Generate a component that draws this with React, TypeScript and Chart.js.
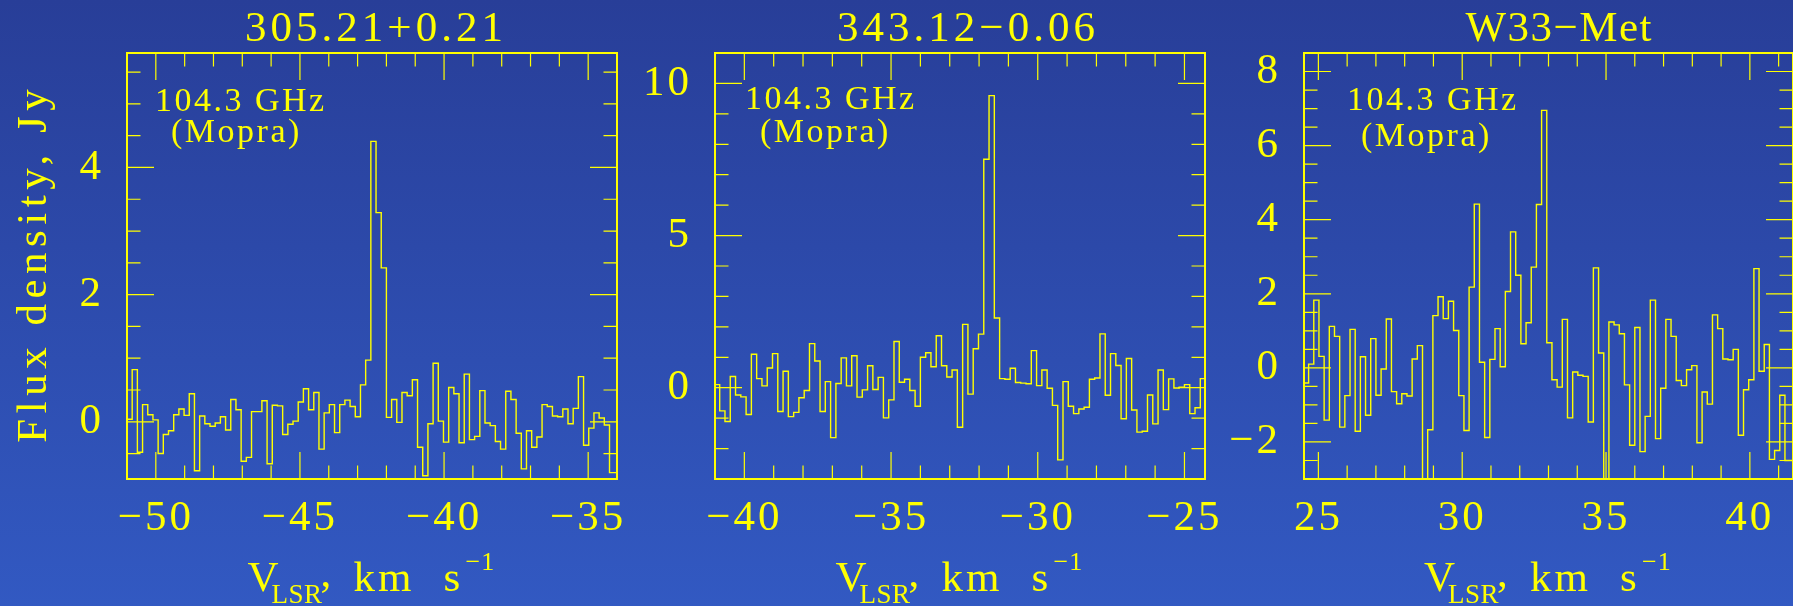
import React, { useEffect, useRef } from "react";
import { Chart, registerables } from "chart.js";

Chart.register(...registerables);

const WIDTH = 1793;
const HEIGHT = 606;
const YELLOW = "#ffff00";
const FONT = '"Liberation Serif", "Times New Roman", serif';

// channel width of the spectra, km/s
const CHANNEL_WIDTH = 0.18;

// ---- 305.21+0.21 : flux density (Jy) per channel, starting at p1Start km/s
const p1Start = -51.0;
const p1Flux = [
  0.18, 0.04, 0.82, -0.48, 0.27, 0.11, 0.03, -0.5, -0.2, -0.14,
  0.11, 0.2, 0.1, 0.44, -0.77, 0.09, -0.03, -0.07, -0.02, 0.08,
  -0.13, 0.35, 0.19, -0.62, -0.56, 0.16, 0.16, 0.33, -0.66, 0.26,
  0.25, -0.2, -0.04, 0.01, 0.31, 0.52, 0.19, 0.46, -0.43, 0.14,
  0.27, -0.17, 0.27, 0.34, 0.24, 0.08, 0.58, 0.97, 4.41, 3.29,
  2.42, 0.07, 0.35, -0.01, 0.46, 0.41, 0.66, -0.4, -0.85, -0.03,
  0.92, 0.01, -0.32, 0.54, 0.44, -0.33, 0.75, -0.28, -0.23, 0.49,
  -0.02, -0.06, -0.31, -0.43, 0.48, 0.35, -0.18, -0.74, -0.14, -0.4,
  -0.24, 0.27, 0.24, 0.09, 0.08, 0.2, -0.03, 0.21, 0.71, -0.37,
  -0.1, 0.14, 0.06, -0.05, -0.8,
];

// ---- 343.12-0.06
const p2Start = -41.02;
const p2Flux = [
  -0.33, 0.1, -0.76, -1.11, 0.37, -0.24, -0.3, -0.88, 1.1, 0.3,
  0.06, 0.65, 1.12, -0.78, 0.54, -0.95, -0.81, -0.33, -0.09, 1.45,
  0.88, -0.78, 0.2, -1.64, 0.14, 0.98, 0.06, 1.05, -0.31, -0.07,
  0.72, -0.06, 0.34, -0.99, -0.4, 1.52, 0.18, 0.28, -0.09, -0.61,
  1.0, 1.15, 0.69, 1.71, 0.72, 0.35, 0.58, -1.3, 2.08, -0.21,
  1.28, 1.76, 7.51, 9.6, 2.29, 0.3, 0.28, 0.64, 0.17, 0.15,
  0.13, 1.22, 0.07, 0.58, -0.02, -0.58, -2.37, 0.2, -0.61, -0.85,
  -0.7, -0.64, 0.28, 0.32, 1.77, -0.25, 1.12, 0.73, -1.02, 0.96,
  -0.73, -1.46, -1.43, -0.24, -1.19, 0.58, -0.72, 0.29, -0.01, 0.02,
  0.1, -0.85, -0.66, 0.3,
];

// ---- W33-Met
const p3Start = 24.48;
const p3Flux = [
  0.77, -0.41, 0.1, 1.83, 0.31, -1.41, 1.12, 0.85, -1.6, -0.75,
  1.04, -1.71, 0.3, -1.28, 0.79, -0.74, -0.03, 1.32, -0.64, -0.97,
  -0.7, -0.76, 0.24, 0.6, -3.6, -1.67, 1.41, 1.92, 1.33, 1.8,
  1.01, -0.75, -1.69, 2.18, 4.42, 0.15, -1.88, 0.23, 1.06, 0.03,
  2.06, 3.67, 2.5, 0.65, 1.22, 2.72, 4.41, 6.95, 0.68, -0.32,
  -0.52, 1.31, -1.35, -0.11, -0.2, -0.23, -1.46, 2.7, 0.4, -3.6,
  1.24, 1.16, 0.92, -0.46, -2.09, 1.09, -2.26, -1.31, 1.83, -1.91,
  -0.55, 1.31, 0.85, -0.34, -0.48, -0.05, 0.06, -2.02, -0.65, -0.98,
  1.43, 1.06, 0.24, 0.22, 0.5, -1.82, -0.59, -0.32, 2.68, -0.09,
  0.63, -2.47, -2.23, -0.74, -2.5,
];

const titles = ["305.21+0.21", "343.12\u22120.06", "W33\u2212Met"];
const noteLines = ["104.3 GHz", "(Mopra)"];
const yAxisTitle = "Flux density, Jy";

type Box = { left: number; top: number; right: number; bottom: number };
type PanelSpec = {
  title: string;
  titleSpacing: number;
  titleDx: number;
  start: number;
  flux: number[];
  xMin: number;
  xMax: number;
  yMin: number;
  yMax: number;
  xMajor: number;
  xMinor: number;
  yMajor: number;
  yMinor: number;
  box: Box;
  note: [number, number][];
  showYTitle: boolean;
};

const panels: PanelSpec[] = [
  {
    title: titles[0], titleSpacing: 4, titleDx: 2,
    start: p1Start, flux: p1Flux,
    xMin: -51, xMax: -34, yMin: -0.9, yMax: 5.8,
    xMajor: 5, xMinor: 1, yMajor: 2, yMinor: 0.5,
    box: { left: 127, top: 53, right: 617, bottom: 479 },
    note: [[28, 58], [44, 89]],
    showYTitle: true,
  },
  {
    title: titles[1], titleSpacing: 4, titleDx: 6,
    start: p2Start, flux: p2Flux,
    xMin: -41, xMax: -24.3, yMin: -3, yMax: 11,
    xMajor: 5, xMinor: 1, yMajor: 5, yMinor: 1,
    box: { left: 715, top: 53, right: 1205, bottom: 479 },
    note: [[30, 55.5], [45, 89]],
    showYTitle: false,
  },
  {
    title: titles[2], titleSpacing: 1.5, titleDx: 10,
    start: p3Start, flux: p3Flux,
    xMin: 24.5, xMax: 41.5, yMin: -3, yMax: 8.5,
    xMajor: 5, xMinor: 1, yMajor: 2, yMinor: 0.5,
    box: { left: 1304, top: 53, right: 1793, bottom: 479 },
    note: [[43, 57], [57, 93]],
    showYTitle: false,
  },
];

const MAJOR_LEN = 27;
const MINOR_LEN = 13.5;

function forEachTick(min: number, max: number, step: number, major: number, fn: (v: number, isMajor: boolean) => void) {
  const i0 = Math.ceil(min / step - 1e-6);
  const i1 = Math.floor(max / step + 1e-6);
  for (let i = i0; i <= i1; i++) {
    const v = i * step;
    const r = v / major;
    fn(v, Math.abs(r - Math.round(r)) < 1e-6);
  }
}

function drawText(ctx: any, str: string, x: number, y: number, size: number, spacing: number, align: CanvasTextAlign = "left") {
  ctx.font = `${size}px ${FONT}`;
  ctx.letterSpacing = `${spacing}px`;
  ctx.textAlign = align;
  ctx.textBaseline = "alphabetic";
  ctx.fillText(str, align === "center" ? x + spacing / 2 : x, y);
}

function makeDecor(spec: PanelSpec) {
  return {
    id: "pgplotDecor",
    beforeDraw(chart: any) {
      chart.ctx.letterSpacing = "3px";
    },
    afterDraw(chart: any) {
      const ctx = chart.ctx;
      const a = chart.chartArea;
      const xs = chart.scales.x;
      const ys = chart.scales.y;
      ctx.save();
      ctx.letterSpacing = "0px";
      ctx.strokeStyle = YELLOW;
      ctx.lineWidth = 1.2;
      ctx.beginPath();
      forEachTick(xs.min, xs.max, spec.xMinor, spec.xMajor, (v, major) => {
        const px = xs.getPixelForValue(v);
        const len = major ? MAJOR_LEN : MINOR_LEN;
        ctx.moveTo(px, a.bottom);
        ctx.lineTo(px, a.bottom - len);
        ctx.moveTo(px, a.top);
        ctx.lineTo(px, a.top + len);
      });
      forEachTick(ys.min, ys.max, spec.yMinor, spec.yMajor, (v, major) => {
        const py = ys.getPixelForValue(v);
        const len = major ? MAJOR_LEN : MINOR_LEN;
        ctx.moveTo(a.left, py);
        ctx.lineTo(a.left + len, py);
        ctx.moveTo(a.right, py);
        ctx.lineTo(a.right - len, py);
      });
      ctx.stroke();
      ctx.lineWidth = 2;
      ctx.strokeRect(a.left, a.top, a.right - a.left, a.bottom - a.top);

      ctx.fillStyle = YELLOW;
      const cx = (a.left + a.right) / 2;
      // panel title
      drawText(ctx, spec.title, cx + spec.titleDx, 41, 43, spec.titleSpacing, "center");
      // annotation
      drawText(ctx, noteLines[0], a.left + spec.note[0][0], a.top + spec.note[0][1], 34, 2.5);
      drawText(ctx, noteLines[1], a.left + spec.note[1][0], a.top + spec.note[1][1], 34, 2.5);
      // x axis title: V_LSR, km s^-1
      const gl = cx - 124.5;
      drawText(ctx, "V", gl, 591, 43, 3);
      drawText(ctx, "LSR", gl + 24, 603, 27, 0.5);
      drawText(ctx, ",", gl + 73, 586, 43, 0);
      drawText(ctx, "km", gl + 106, 591, 43, 3);
      drawText(ctx, "s", gl + 196, 591, 43, 3);
      drawText(ctx, "\u22121", gl + 218, 570, 26, 1);
      // y axis title
      if (spec.showYTitle) {
        ctx.save();
        ctx.translate(46, 266);
        ctx.rotate(-Math.PI / 2);
        drawText(ctx, yAxisTitle, 0, 0, 43, 5.5, "center");
        ctx.restore();
      }
      ctx.restore();
      ctx.letterSpacing = "0px";
    },
  };
}

const fmtTick = (v: number | string) => String(v).replace("-", "\u2212");

function fixSize(horizontal: boolean, size: number) {
  return (s: any) => {
    if (horizontal) s.height = size;
    else s.width = size;
    s.paddingLeft = 0;
    s.paddingRight = 0;
    s.paddingTop = 0;
    s.paddingBottom = 0;
  };
}

function Panel({ spec }: { spec: PanelSpec }) {
  const ref = useRef<HTMLCanvasElement | null>(null);
  useEffect(() => {
    if (!ref.current) return;
    const pts = spec.flux.map((f, i) => ({ x: spec.start + i * CHANNEL_WIDTH, y: f }));
    // right edge of the last channel
    pts.push({ x: spec.start + spec.flux.length * CHANNEL_WIDTH, y: spec.flux[spec.flux.length - 1] });
    const b = spec.box;
    const tickFont = { family: FONT, size: 43, lineHeight: 1.2 };
    const chart = new Chart(ref.current, {
      type: "line",
      data: {
        datasets: [
          {
            data: pts,
            stepped: "after",
            borderColor: YELLOW,
            borderWidth: 1.4,
            pointRadius: 0,
            fill: false,
            tension: 0,
          },
        ],
      },
      options: {
        animation: false,
        responsive: false,
        maintainAspectRatio: false,
        devicePixelRatio: 1,
        events: [],
        layout: {
          padding: { left: 0, top: b.top, right: WIDTH - b.right, bottom: 0 },
        },
        plugins: {
          legend: { display: false },
          tooltip: { enabled: false },
          title: { display: false },
        },
        scales: {
          x: {
            type: "linear",
            position: "bottom",
            min: spec.xMin,
            max: spec.xMax,
            afterFit: fixSize(true, HEIGHT - b.bottom),
            grid: { display: false, drawTicks: false },
            border: { display: false },
            ticks: {
              stepSize: spec.xMajor,
              includeBounds: false,
              autoSkip: false,
              maxRotation: 0,
              minRotation: 0,
              color: YELLOW,
              font: tickFont,
              padding: 14,
              callback: fmtTick,
            },
          },
          y: {
            type: "linear",
            position: "left",
            min: spec.yMin,
            max: spec.yMax,
            afterFit: fixSize(false, b.left),
            grid: { display: false, drawTicks: false },
            border: { display: false },
            ticks: {
              stepSize: spec.yMajor,
              includeBounds: false,
              autoSkip: false,
              color: YELLOW,
              font: tickFont,
              padding: 23,
              callback: fmtTick,
            },
          },
        },
      } as any,
      plugins: [makeDecor(spec)],
    });
    return () => chart.destroy();
  }, [spec]);
  return (
    <canvas
      ref={ref}
      width={WIDTH}
      height={HEIGHT}
      style={{ position: "absolute", left: 0, top: 0, width: WIDTH, height: HEIGHT }}
    />
  );
}

export default function App() {
  return (
    <div
      style={{
        position: "fixed",
        left: 0,
        top: 0,
        width: WIDTH,
        height: HEIGHT,
        overflow: "hidden",
        background: "linear-gradient(180deg, #283e98 0%, #3259c2 100%)",
      }}
    >
      {panels.map((p, i) => (
        <Panel key={i} spec={p} />
      ))}
    </div>
  );
}
